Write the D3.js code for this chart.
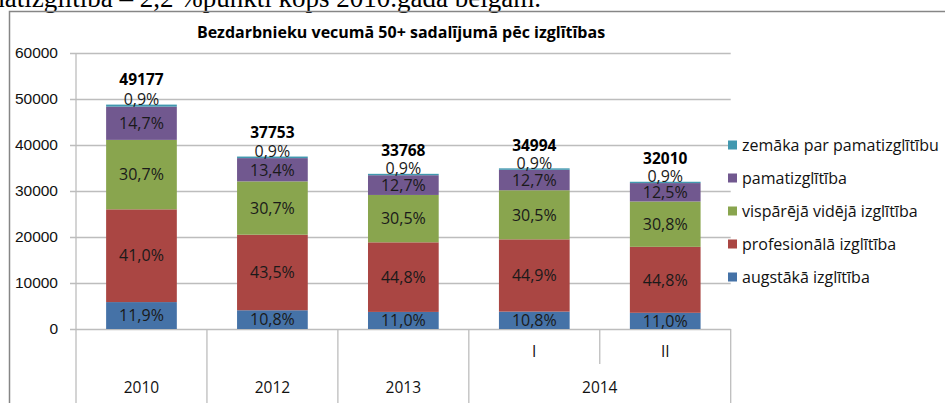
<!DOCTYPE html>
<html>
<head>
<meta charset="utf-8">
<script src="https://cdn.jsdelivr.net/npm/d3@7"></script>
<style>
  body { margin: 0; background: #fff; }
  svg { display: block; font-family: "Open Sans", sans-serif; }
</style>
</head>
<body>
<svg id="chart" width="945" height="403"></svg>
<script>
// categories (bars) and the year groups below them
const categories = ['2010', '2012', '2013', '2014 I', '2014 II'];
const catLabels = ['2010', '2012', '2013', 'I', 'II'];
const groups = [
    { label: '2010', from: 0, to: 0 },
    { label: '2012', from: 1, to: 1 },
    { label: '2013', from: 2, to: 2 },
    { label: '2014', from: 3, to: 4 }
];
const totals = [49177, 37753, 33768, 34994, 32010];

// series, bottom to top
const seriesNames = ['augstākā izglītība', 'profesionālā izglītība', 'vispārējā vidējā izglītība',
                     'pamatizglītība', 'zemāka par pamatizglītību'];
const seriesColors = ['#4572A7', '#AA4643', '#89A54E', '#71588F', '#4198AF'];
// shares in percent, one array per series
const augstaka  = [11.9, 10.8, 11.0, 10.8, 11.0];
const profes    = [41.0, 43.5, 44.8, 44.9, 44.8];
const vispareja = [30.7, 30.7, 30.5, 30.5, 30.8];
const pamat     = [14.7, 13.4, 12.7, 12.7, 12.5];
const zemaka    = [0.9, 0.9, 0.9, 0.9, 0.9];
const shares = [augstaka, profes, vispareja, pamat, zemaka];

const yTicks = [0, 10000, 20000, 30000, 40000, 50000, 60000];

const W = 945, H = 403;
const PLOT = { left: 76, right: 730.7, top: 53, bottom: 329 };

const svg = d3.select('#chart');

// piece of body text above the chart, cut off by the picture edge
svg.append('text')
    .text('pamatizglītība – 2,2 %punkti kopš 2010.gada beigām.')
    .attr('x', 541)
    .attr('y', 7)
    .attr('text-anchor', 'end')
    .attr('font-family', '"Liberation Serif", serif')
    .attr('font-size', 27)
    .attr('fill', '#000');

// chart frame
svg.append('path')
    .attr('d', `M9.5,${H} V11.5 H${W}`)
    .attr('fill', 'none')
    .attr('stroke', '#868686')
    .attr('stroke-width', 1.5);

svg.append('text')
    .text('Bezdarbnieku vecumā 50+ sadalījumā pēc izglītības')
    .attr('x', 401)
    .attr('y', 38)
    .attr('text-anchor', 'middle')
    .attr('font-weight', 'bold')
    .attr('font-size', 16)
    .attr('fill', '#000');

const x = d3.scaleBand()
    .domain(categories)
    .range([PLOT.left, PLOT.right])
    .padding(0);
const y = d3.scaleLinear()
    .domain([0, 60000])
    .range([PLOT.bottom, PLOT.top]);

// grid + y axis
const gy = svg.append('g')
    .attr('transform', `translate(${PLOT.left},0)`)
    .call(d3.axisLeft(y)
        .tickValues(yTicks)
        .tickSize(-(PLOT.right - PLOT.left))
        .tickPadding(18)
        .tickFormat(d3.format('d')));
gy.select('.domain').remove();
gy.selectAll('.tick line')
    .attr('x1', -6)
    .attr('stroke', '#bdbdbd')
    .attr('stroke-width', 1.3);
gy.selectAll('.tick text')
    .attr('x', -18)
    .attr('font-size', 15.5)
    .attr('fill', '#111');

// y axis line and category separators
svg.append('line')
    .attr('x1', PLOT.left).attr('x2', PLOT.left)
    .attr('y1', PLOT.top).attr('y2', H)
    .attr('stroke', '#bdbdbd').attr('stroke-width', 1.3);

const seps = [];
groups.forEach(g => seps.push({ x: x(categories[g.to]) + x.bandwidth(), long: true }));
groups.forEach(g => {
    for (let i = g.from; i < g.to; i++) seps.push({ x: x(categories[i]) + x.bandwidth(), long: false });
});
svg.selectAll('line.sep')
    .data(seps)
    .join('line')
    .attr('class', 'sep')
    .attr('x1', d => d.x).attr('x2', d => d.x)
    .attr('y1', PLOT.bottom)
    .attr('y2', d => d.long ? H : 364)
    .attr('stroke', '#bdbdbd').attr('stroke-width', 1.3);

// sub-labels (I, II) for the grouped year
svg.selectAll('text.sub')
    .data(categories.filter((c, i) => catLabels[i] !== c))
    .join('text')
    .attr('class', 'sub')
    .text(c => catLabels[categories.indexOf(c)])
    .attr('x', c => x(c) + x.bandwidth() / 2)
    .attr('y', 357)
    .attr('text-anchor', 'middle')
    .attr('font-size', 15.5)
    .attr('fill', '#111');

svg.selectAll('text.grp')
    .data(groups)
    .join('text')
    .attr('class', 'grp')
    .text(g => g.label)
    .attr('x', g => (x(categories[g.from]) + x(categories[g.to]) + x.bandwidth()) / 2)
    .attr('y', 393)
    .attr('text-anchor', 'middle')
    .attr('font-size', 15.5)
    .attr('fill', '#111');

// stacked values
const table = categories.map((c, i) => {
    const row = { cat: c };
    seriesNames.forEach((s, k) => row[s] = totals[i] * shares[k][i] / 100);
    return row;
});
const stack = d3.stack().keys(seriesNames)(table);

const barW = x.bandwidth() * 0.54;
const layers = svg.append('g').selectAll('g')
    .data(stack)
    .join('g')
    .attr('fill', (d, k) => seriesColors[k]);
layers.selectAll('rect')
    .data(d => d)
    .join('rect')
    .attr('x', d => x(d.data.cat) + (x.bandwidth() - barW) / 2)
    .attr('width', barW)
    .attr('y', d => y(d[1]))
    .attr('height', d => y(d[0]) - y(d[1]));

// percent labels
const fmtPct = v => v.toFixed(1).replace('.', ',') + '%';
stack.forEach((layer, k) => {
    svg.append('g').selectAll('text')
        .data(layer)
        .join('text')
        .text((d, i) => fmtPct(shares[k][i]))
        .attr('x', d => x(d.data.cat) + x.bandwidth() / 2)
        .attr('y', d => (y(d[0]) + y(d[1])) / 2 + (k === 4 ? -6 : 0))
        .attr('dy', '0.36em')
        .attr('text-anchor', 'middle')
        .attr('font-size', 16)
        .attr('fill', '#1a1a1a');
});

// totals
svg.append('g').selectAll('text')
    .data(totals)
    .join('text')
    .text(d => d)
    .attr('x', (d, i) => x(categories[i]) + x.bandwidth() / 2)
    .attr('y', d => y(d) - 23)
    .attr('dy', '0.36em')
    .attr('text-anchor', 'middle')
    .attr('font-weight', 'bold')
    .attr('font-size', 15.5)
    .attr('fill', '#000');

// legend, top series first
const legend = svg.append('g').selectAll('g')
    .data(seriesNames.map((s, k) => ({ name: s, color: seriesColors[k] })).reverse())
    .join('g')
    .attr('transform', (d, i) => `translate(728, ${145 + i * 33})`);
legend.append('rect')
    .attr('y', -4.5)
    .attr('width', 9).attr('height', 9)
    .attr('fill', d => d.color);
legend.append('text')
    .text(d => d.name)
    .attr('x', 14)
    .attr('dy', '0.36em')
    .attr('font-size', 16)
    .attr('fill', '#111');
</script>
</body>
</html>
